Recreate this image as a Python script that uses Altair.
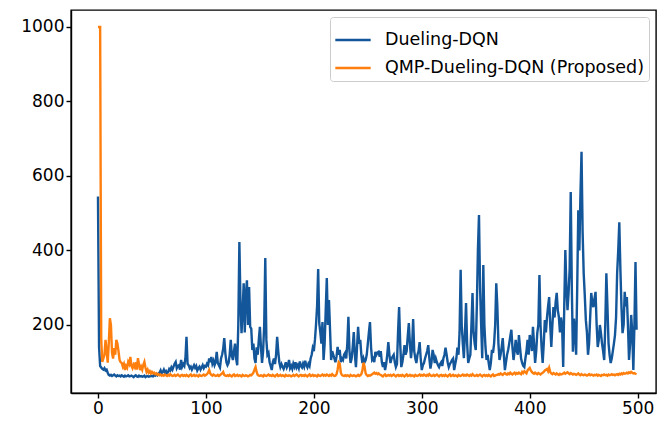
import altair as alt
import pandas as pd

episodes = list(range(500))

dueling_dqn = [
    545, 140, 90, 86, 82, 80, 84, 78, 80, 72,
    66, 64, 66, 63, 65, 67, 64, 62, 65, 63,
    64, 62, 65, 63, 61, 64, 62, 63, 65, 62,
    63, 64, 62, 60, 63, 65, 62, 61, 64, 62,
    63, 61, 62, 64, 60, 62, 63, 61, 62, 64,
    63, 62, 66, 64, 68, 65, 70, 72, 78, 70,
    74, 80, 72, 76, 70, 74, 82, 78, 86, 80,
    88, 96, 101, 84, 90, 92, 80, 106, 88, 95,
    90, 110, 168, 96, 92, 84, 88, 80, 86, 92,
    85, 90, 78, 84, 88, 80, 86, 92, 84, 90,
    88, 96, 92, 110, 100, 114, 96, 104, 92, 100,
    128, 98, 92, 86, 110, 120, 136, 165, 124, 100,
    92, 98, 120, 160, 118, 106, 130, 150, 110, 92,
    200, 423, 260, 178, 240, 312, 180, 280, 320, 200,
    302, 195, 190, 133, 150, 110, 98, 140, 120, 160,
    195, 140, 98, 130, 200, 380, 160, 120, 125, 100,
    90, 79, 100, 110, 95, 120, 168, 130, 100, 87,
    95, 88, 82, 90, 100, 86, 92, 106, 84, 90,
    82, 96, 88, 100, 86, 92, 84, 102, 90, 86,
    96, 88, 104, 92, 86, 96, 90, 110, 120, 138,
    130, 160, 200, 250, 350, 205, 180, 150, 208, 106,
    150, 240, 326, 200, 267, 187, 106, 130, 120, 110,
    100, 115, 141, 120, 133, 100, 110, 106, 120, 125,
    110, 150, 222, 130, 98, 110, 140, 181, 120, 87,
    140, 195, 150, 160, 120, 98, 110, 100, 106, 120,
    150, 180, 208, 140, 106, 110, 100, 128, 120, 126,
    128, 115, 130, 100, 87, 100, 79, 95, 120, 154,
    120, 98, 110, 115, 120, 100, 87, 95, 180, 248,
    150, 87, 100, 120, 146, 120, 130, 170, 205, 150,
    111, 140, 216, 130, 110, 98, 120, 130, 154, 110,
    79, 92, 98, 110, 120, 130, 146, 110, 83, 100,
    133, 120, 98, 110, 100, 92, 87, 95, 100, 90,
    110, 120, 139, 120, 100, 87, 95, 100, 106, 110,
    79, 95, 110, 139, 120, 180, 348, 200, 150, 111,
    180, 259, 150, 98, 110, 120, 200, 286, 180, 150,
    133, 250, 400, 495, 300, 200, 111, 361, 200, 141,
    106, 120, 98, 79, 98, 133, 125, 150, 200, 312,
    250, 150, 106, 120, 140, 165, 120, 79, 100, 120,
    133, 150, 170, 187, 140, 106, 130, 160, 130, 120,
    173, 140, 110, 98, 90, 87, 110, 130, 160, 120,
    173, 160, 130, 195, 150, 98, 130, 178, 200, 334,
    200, 140, 98, 150, 213, 180, 220, 250, 275, 200,
    141, 200, 248, 220, 260, 286, 240, 222, 180, 220,
    200, 87, 250, 401, 300, 240, 286, 350, 557, 300,
    128, 217, 180, 120, 300, 508, 400, 550, 665, 450,
    339, 280, 213, 180, 120, 150, 220, 286, 260, 248,
    270, 289, 200, 141, 160, 200, 178, 150, 130, 106,
    200, 339, 250, 152, 120, 98, 110, 130, 150, 173,
    220, 339, 400, 476, 350, 250, 178, 200, 289, 250,
    275, 200, 106, 150, 227, 180, 79, 200, 369, 187,
]

qmp_dueling_dqn = [
    1000, 1000, 1000, 160, 101, 110, 120, 160, 130, 99,
    150, 218, 200, 125, 110, 138, 120, 160, 150, 130,
    106, 100, 98, 88, 95, 79, 90, 85, 101, 95,
    114, 90, 84, 93, 87, 100, 80, 111, 95, 79,
    88, 80, 93, 101, 85, 74, 80, 72, 76, 70,
    74, 70, 72, 68, 70, 66, 68, 65, 67, 64,
    66, 64, 67, 65, 63, 66, 64, 68, 65, 63,
    64, 66, 63, 65, 67, 64, 62, 65, 66, 63,
    65, 63, 66, 64, 62, 65, 67, 63, 64, 66,
    63, 65, 64, 62, 66, 64, 63, 65, 67, 64,
    66, 68, 72, 79, 70, 66, 64, 67, 65, 63,
    64, 66, 63, 65, 68, 70, 74, 66, 64, 63,
    65, 63, 66, 64, 62, 65, 67, 63, 64, 66,
    63, 65, 64, 62, 66, 64, 63, 65, 64, 62,
    64, 66, 65, 68, 72, 80, 87, 74, 66, 64,
    63, 65, 64, 62, 66, 64, 63, 65, 67, 64,
    65, 63, 66, 64, 62, 65, 67, 63, 64, 66,
    63, 65, 64, 62, 66, 64, 63, 65, 64, 62,
    64, 66, 63, 65, 67, 64, 62, 65, 66, 63,
    65, 63, 66, 64, 62, 65, 67, 63, 64, 66,
    63, 65, 64, 62, 66, 64, 63, 65, 67, 64,
    66, 64, 67, 65, 63, 66, 64, 68, 65, 63,
    64, 68, 80, 100, 96, 72, 66, 64, 63, 65,
    63, 65, 64, 62, 66, 64, 63, 65, 64, 62,
    64, 66, 63, 65, 68, 78, 99, 88, 70, 65,
    63, 65, 64, 66, 68, 70, 72, 69, 71, 68,
    70, 67, 66, 64, 62, 65, 67, 63, 64, 66,
    64, 66, 63, 65, 67, 64, 62, 65, 66, 63,
    65, 63, 66, 64, 62, 65, 67, 63, 64, 66,
    63, 65, 64, 62, 66, 64, 63, 65, 67, 64,
    66, 64, 67, 65, 63, 66, 64, 68, 65, 63,
    64, 66, 63, 65, 67, 64, 62, 65, 66, 63,
    65, 63, 66, 64, 62, 65, 67, 63, 64, 66,
    63, 65, 64, 62, 66, 64, 63, 65, 67, 64,
    66, 64, 67, 65, 63, 66, 64, 68, 65, 63,
    64, 66, 63, 65, 67, 64, 62, 65, 66, 63,
    65, 63, 66, 64, 62, 65, 67, 63, 64, 66,
    66, 68, 67, 70, 68, 66, 69, 71, 68, 67,
    70, 68, 72, 69, 67, 70, 72, 68, 71, 69,
    72, 70, 68, 74, 71, 76, 73, 70, 78, 82,
    85, 78, 74, 71, 69, 72, 70, 68, 71, 69,
    67, 70, 72, 74, 78, 80, 82, 76, 85, 74,
    70, 68, 71, 69, 67, 70, 68, 66, 69, 67,
    68, 70, 72, 69, 71, 73, 70, 68, 71, 69,
    67, 69, 68, 66, 68, 70, 67, 65, 68, 66,
    65, 67, 66, 64, 66, 68, 65, 67, 66, 64,
    66, 65, 67, 64, 66, 65, 63, 66, 65, 67,
    65, 66, 64, 67, 65, 66, 68, 66, 67, 65,
    67, 68, 66, 69, 67, 70, 68, 71, 69, 70,
    72, 70, 73, 71, 74, 72, 70, 71, 69, 68,
]

series_names = ["Dueling-DQN", "QMP-Dueling-DQN (Proposed)"]
series_colors = ["#13569a", "#ff7f0e"]
x_ticks = [0, 100, 200, 300, 400, 500]
y_ticks = [200, 400, 600, 800, 1000]

df = pd.DataFrame({
    "episode": episodes + episodes,
    "value": dueling_dqn + qmp_dueling_dqn,
    "series": [series_names[0]] * len(dueling_dqn) + [series_names[1]] * len(qmp_dueling_dqn),
})

axis_common = dict(
    title=None, grid=False, domainColor="black", domainWidth=1.4,
    tickColor="black", tickSize=5, tickWidth=1.4, labelColor="black",
    labelFontSize=17, labelFont="DejaVu Sans", labelPadding=2, format="d",
)

chart = alt.Chart(df).mark_line(strokeWidth=2.4).encode(
    x=alt.X("episode:Q",
            scale=alt.Scale(domain=[-25, 517], nice=False, zero=False),
            axis=alt.Axis(values=x_ticks, **axis_common)),
    y=alt.Y("value:Q",
            scale=alt.Scale(domain=[17.4, 1045.6], nice=False, zero=False),
            axis=alt.Axis(values=y_ticks, **axis_common)),
    color=alt.Color("series:N",
                    scale=alt.Scale(domain=series_names, range=series_colors),
                    legend=alt.Legend(
                        title=None, orient="none", legendX=259, legendY=7,
                        symbolType="stroke", symbolSize=1250, symbolStrokeWidth=2.6,
                        labelFontSize=17.5, labelFont="DejaVu Sans", labelColor="black",
                        labelLimit=400, labelOffset=13, rowPadding=-10,
                        strokeColor="#cccccc", fillColor="white", padding=4,
                        cornerRadius=3,
                    )),
).properties(
    width=585, height=383,
    autosize=alt.AutoSizeParams(type="none"),
    padding={"left": 63, "top": 2, "right": 1, "bottom": 24},
).configure_view(stroke="black", strokeWidth=1.4)

chart.save("out.html", embed_options={"renderer": "svg", "actions": False})
